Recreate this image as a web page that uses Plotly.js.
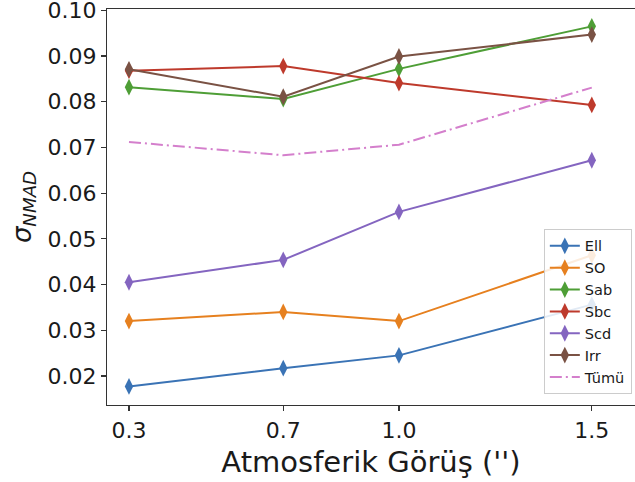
<!DOCTYPE html>
<html>
<head>
<meta charset="utf-8">
<script src="https://cdn.plot.ly/plotly-3.0.1.min.js"></script>
<style>html,body{margin:0;padding:0;background:#fff;overflow:hidden;}</style>
</head>
<body>
<div id="chart" style="width:635px;height:482px;"></div>
<script>
// Data
const seeing = [0.3, 0.7, 1.0, 1.5];
const seriesNames = ["Ell", "SO", "Sab", "Sbc", "Scd", "Irr", "Tümü"];
const ell  = [0.0177, 0.0217, 0.0245, 0.0356];
const so   = [0.0320, 0.0340, 0.0320, 0.0464];
const sab  = [0.0832, 0.0806, 0.0872, 0.0965];
const sbc  = [0.0868, 0.0878, 0.0841, 0.0793];
const scd  = [0.0405, 0.0454, 0.0559, 0.0672];
const irr  = [0.0871, 0.0811, 0.0899, 0.0947];
const tumu = [0.0712, 0.0683, 0.0706, 0.0831];
const xTickVals = [0.3, 0.7, 1.0, 1.5];
const xTickText = ["0.3", "0.7", "1.0", "1.5"];
const yTickVals = [0.02, 0.03, 0.04, 0.05, 0.06, 0.07, 0.08, 0.09, 0.10];
const yTickText = ["0.02", "0.03", "0.04", "0.05", "0.06", "0.07", "0.08", "0.09", "0.10"];

const colors = ["#3a73b5", "#e6801f", "#4e9e36", "#be3a2c", "#8465c0", "#7a5244", "#d47fcc"];
const values = [ell, so, sab, sbc, scd, irr, tumu];

const traces = values.map((v, i) => {
  const isAll = i === 6;
  return {
    x: seeing,
    y: v,
    name: seriesNames[i],
    type: "scatter",
    mode: isAll ? "lines" : "lines+markers",
    line: {color: colors[i], width: 2, dash: isAll ? "12px,4px,2px,4px" : "solid"},
    marker: {symbol: "diamond-tall", size: 12, color: colors[i], line: {width: 0}}
  };
});

const layout = {
  width: 635,
  height: 482,
  margin: {l: 107, r: 0, t: 9, b: 77},
  paper_bgcolor: "#ffffff",
  plot_bgcolor: "#ffffff",
  font: {family: "DejaVu Sans", color: "#1a1a1a"},
  showlegend: true,
  legend: {
    x: 0.994, y: 0.028, xanchor: "right", yanchor: "bottom",
    bgcolor: "rgba(255,255,255,0.85)", bordercolor: "#cccccc", borderwidth: 1,
    font: {family: "DejaVu Sans", size: 14.5, color: "#1a1a1a"},
    itemwidth: 30
  },
  xaxis: {
    range: [0.243, 1.612],
    tickvals: xTickVals, ticktext: xTickText,
    ticks: "outside", ticklen: 5, tickwidth: 1.2, tickcolor: "#333",
    showline: true, linecolor: "#333", linewidth: 1.2, mirror: true,
    showgrid: false, zeroline: false,
    ticklabeloverflow: "allow",
    tickfont: {size: 22, family: "DejaVu Sans"},
    title: {text: "Atmosferik Görüş ('')", font: {size: 29, family: "DejaVu Sans"}, standoff: 10}
  },
  yaxis: {
    range: [0.01364, 0.1003],
    tickvals: yTickVals, ticktext: yTickText,
    ticks: "outside", ticklen: 5, tickwidth: 1.2, tickcolor: "#333",
    showline: true, linecolor: "#333", linewidth: 1.2,
    showgrid: false, zeroline: false,
    ticklabeloverflow: "allow",
    tickfont: {size: 22, family: "DejaVu Sans"},
    title: {text: "<i>σ<sub>NMAD</sub></i>", font: {size: 26, family: "DejaVu Sans"}, standoff: 8}
  }
};

Plotly.newPlot("chart", traces, layout, {displayModeBar: false, staticPlot: true});
</script>
</body>
</html>
